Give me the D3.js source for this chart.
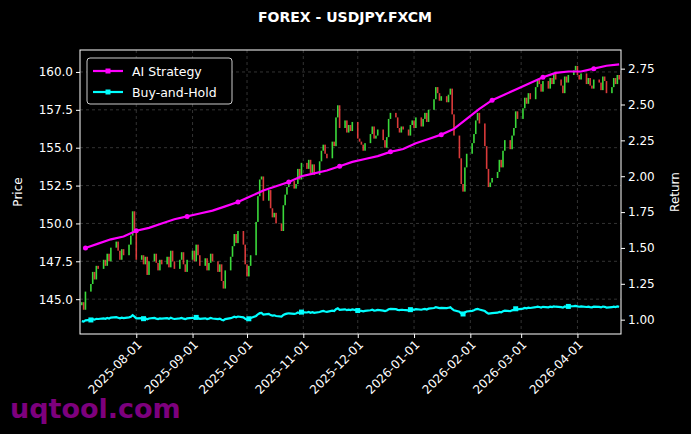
<!DOCTYPE html>
<html>
<head>
<meta charset="utf-8">
<script src="https://cdn.jsdelivr.net/npm/d3@7"></script>
<style>
  body { margin: 0; background: #000; }
  text { font-family: "DejaVu Sans", sans-serif; }
</style>
</head>
<body>
<script>
// weekly rows of daily closes (weekdays), first row starts 2025-07-02
const firstDay = "2025-07-02";
const closeRows = [
    [144.8, 144.3, 145.5],
    [146.0, 146.8, 146.3, 147.2, 147.0],
    [147.6, 147.2, 148.0, 147.5, 148.4],
    [148.8, 148.2, 147.6, 148.3, 147.9],
    [148.6, 149.2, 150.8, 149.4, 147.6],
    [147.9, 147.3, 147.8, 146.6, 147.5],
    [148.0, 147.4, 146.9, 147.6, 147.3],
    [147.8, 147.1, 148.2, 147.5, 147.0],
    [147.6, 148.1, 147.3, 146.8, 147.6],
    [148.2, 147.5, 148.6, 147.9, 147.2],
    [147.7, 146.9, 147.4, 148.0, 147.5],
    [146.8, 147.3, 146.2, 145.7, 146.9],
    [147.8, 148.5, 149.3, 148.7, 149.5],
    [148.6, 147.3, 146.5, 147.2, 147.9],
    [150.1, 151.8, 152.9, 153.1, 151.5],
    [152.2, 151.0, 150.4, 150.7, 150.0],
    [149.5, 151.2, 151.9, 152.4, 152.8],
    [152.3, 152.6, 153.6, 152.9, 154.0],
    [153.6, 154.2, 153.3, 153.9, 153.2],
    [154.1, 154.8, 155.2, 154.6, 154.3],
    [155.4, 155.1, 157.0, 157.8, 156.3],
    [156.8, 156.0, 156.5, 156.1, 156.7],
    [155.6, 155.4, 155.2, 154.8, 155.3],
    [155.9, 156.4, 155.6, 155.8, 156.2],
    [155.5, 155.0, 155.7, 156.9, 157.3],
    [157.0, 156.3, 156.0, 156.4, 156.2],
    [155.8, 156.5, 156.8, 156.3, 157.0],
    [156.4, 156.9, 157.3, 156.7, 157.5],
    [158.2, 159.0, 158.6, 158.1, 158.4],
    [158.0, 158.5, 158.9, 157.2, 155.8],
    [154.3, 152.6, 152.1, 153.7, 154.6],
    [155.3, 155.9, 156.8, 157.3, 156.6],
    [155.1, 153.6, 152.4, 152.7, 153.0],
    [153.4, 154.2, 153.7, 154.8, 155.5],
    [154.9, 155.8, 156.3, 157.4, 156.9],
    [157.6, 158.3, 157.9, 158.6, 158.2],
    [159.0, 159.5, 159.2, 158.7, 159.4],
    [158.9, 159.6, 159.2, 159.9, 159.5],
    [159.1, 158.6, 159.7, 159.3, 159.8],
    [160.1, 160.4, 159.8, 159.5, 159.9],
    [159.2, 159.6, 159.1, 158.9, 159.5],
    [159.3, 158.8, 159.7, 159.4, 158.6],
    [159.0, 159.6, 159.2, 159.8, 159.5]
];
const firstOpen = 144.6;
const holdBase = 146.3;
// AI strategy cumulative return, one value per week (last day of each row)
const aiWeekly = [1.50, 1.53, 1.56, 1.58, 1.62, 1.64, 1.67, 1.70, 1.72, 1.74, 1.76,
    1.79, 1.82, 1.86, 1.90, 1.93, 1.96, 2.00, 2.02, 2.04, 2.07, 2.10, 2.12, 2.14,
    2.17, 2.19, 2.23, 2.26, 2.29, 2.33, 2.40, 2.47, 2.53, 2.57, 2.61, 2.65, 2.69,
    2.72, 2.73, 2.73, 2.75, 2.77, 2.78];
const priceTicks = [145, 147.5, 150, 152.5, 155, 157.5, 160];
const returnTicks = [1.00, 1.25, 1.50, 1.75, 2.00, 2.25, 2.50, 2.75];
const monthTicks = ["2025-08-01", "2025-09-01", "2025-10-01", "2025-11-01", "2025-12-01",
    "2026-01-01", "2026-02-01", "2026-03-01", "2026-04-01"];

const parse = d3.timeParse("%Y-%m-%d");
// build daily candles
var candles = [];
var weekEnds = [];
var day = parse(firstDay);
var prev = firstOpen;
closeRows.forEach((row) => {
    row.forEach((c) => {
        while (day.getDay() === 0 || day.getDay() === 6) day = d3.timeDay.offset(day, 1);
        candles.push({date: day, open: prev, close: c});
        prev = c;
        day = d3.timeDay.offset(day, 1);
    });
    weekEnds.push(candles[candles.length - 1].date);
});
var aiData = aiWeekly.map((v, i) => ({date: weekEnds[i], value: v}));
var holdData = candles.map(d => ({date: d.date, value: d.close / holdBase}));

var margin = {top: 50, right: 70, bottom: 100, left: 80};
var W = 691, H = 434;
var width = W - margin.left - margin.right;
var height = H - margin.top - margin.bottom;

var svg = d3.select("body").append("svg").attr("width", W).attr("height", H);
svg.append("rect").attr("width", W).attr("height", H).attr("fill", "#000");
var g = svg.append("g").attr("transform", `translate(${margin.left},${margin.top})`);

var x = d3.scaleTime()
    .domain([d3.timeDay.offset(candles[0].date, -0.5), d3.timeDay.offset(candles[candles.length - 1].date, 1)])
    .range([0, width]);
var y = d3.scaleLinear().domain([142.7, 161.45]).range([height, 0]);
var y2 = d3.scaleLinear().domain([0.90, 2.88]).range([height, 0]);

// GRID
g.append("g").selectAll("line").data(priceTicks).join("line")
    .attr("x1", 0).attr("x2", width).attr("y1", d => y(d)).attr("y2", d => y(d))
    .attr("stroke", "#555").attr("stroke-dasharray", "3,3").attr("stroke-width", 0.6);
g.append("g").selectAll("line").data(monthTicks).join("line")
    .attr("y1", 0).attr("y2", height).attr("x1", d => x(parse(d))).attr("x2", d => x(parse(d)))
    .attr("stroke", "#555").attr("stroke-dasharray", "3,3").attr("stroke-width", 0.6);

// CANDLES
g.append("g").selectAll("rect").data(candles).join("rect")
    .attr("x", d => x(d.date) - 0.8)
    .attr("width", 1.6)
    .attr("y", d => y(Math.max(d.open, d.close)))
    .attr("height", d => Math.max(1, Math.abs(y(d.open) - y(d.close))))
    .attr("fill", d => d.close >= d.open ? "#44ff44" : "#ff4444")
    .attr("opacity", 0.85);

// RETURN LINES
var line = d3.line().x(d => x(d.date)).y(d => y2(d.value));
g.append("path").datum(holdData).attr("d", line)
    .attr("fill", "none").attr("stroke", "#00ffff").attr("stroke-width", 2.2);
g.append("path").datum(aiData).attr("d", line)
    .attr("fill", "none").attr("stroke", "#ff00ff").attr("stroke-width", 2.2);
g.append("g").selectAll("rect").data(holdData.filter((d, i) => i % 21 === 3)).join("rect")
    .attr("x", d => x(d.date) - 2.5).attr("y", d => y2(d.value) - 2.5)
    .attr("width", 5).attr("height", 5).attr("fill", "#00ffff");
g.append("g").selectAll("circle").data(aiData.filter((d, i) => i % 4 === 0)).join("circle")
    .attr("cx", d => x(d.date)).attr("cy", d => y2(d.value)).attr("r", 2.5).attr("fill", "#ff00ff");

// FRAME
g.append("rect").attr("width", width).attr("height", height)
    .attr("fill", "none").attr("stroke", "#fff").attr("stroke-width", 1);

// AXES
function styleAxis(sel) {
    sel.selectAll("path").remove();
    sel.selectAll("line").attr("stroke", "#fff");
    sel.selectAll("text").attr("fill", "#fff").style("font-size", "12px");
}
g.append("g").call(d3.axisLeft(y).tickValues(priceTicks).tickFormat(d3.format(".1f")).tickSize(4)).call(styleAxis);
g.append("g").attr("transform", `translate(${width},0)`)
    .call(d3.axisRight(y2).tickValues(returnTicks).tickFormat(d3.format(".2f")).tickSize(4)).call(styleAxis);
g.append("g").attr("transform", `translate(0,${height})`)
    .call(d3.axisBottom(x).tickValues(monthTicks.map(parse)).tickFormat(d3.timeFormat("%Y-%m-%d")).tickSize(4))
    .call(styleAxis)
    .selectAll("text")
    .attr("transform", "rotate(-45)")
    .attr("text-anchor", "end")
    .attr("x", -4).attr("y", 8).attr("dy", "0.35em");

// LABELS
svg.append("text").attr("x", 345).attr("y", 22).attr("text-anchor", "middle")
    .attr("fill", "#fff").style("font-size", "14px").style("font-weight", "bold")
    .text("FOREX - USDJPY.FXCM");
svg.append("text").attr("transform", "rotate(-90)").attr("x", -(margin.top + height / 2)).attr("y", 22)
    .attr("text-anchor", "middle").attr("fill", "#fff").style("font-size", "12px").text("Price");
svg.append("text").attr("transform", "rotate(-90)").attr("x", -(margin.top + height / 2)).attr("y", 679)
    .attr("text-anchor", "middle").attr("fill", "#fff").style("font-size", "12px").text("Return");

// LEGEND
var lg = g.append("g").attr("transform", "translate(7,8)");
lg.append("rect").attr("width", 145).attr("height", 46).attr("rx", 3)
    .attr("fill", "#000").attr("stroke", "#ccc").attr("stroke-width", 1);
[["AI Strategy", "#ff00ff"], ["Buy-and-Hold", "#00ffff"]].forEach((item, i) => {
    var yy = 13 + i * 21;
    lg.append("line").attr("x1", 6).attr("x2", 36).attr("y1", yy).attr("y2", yy)
        .attr("stroke", item[1]).attr("stroke-width", 2.2);
    lg.append("rect").attr("x", 18.5).attr("y", yy - 2.5).attr("width", 5).attr("height", 5).attr("fill", item[1]);
    lg.append("text").attr("x", 45).attr("y", yy + 4.5).attr("fill", "#fff")
        .style("font-size", "12.5px").text(item[0]);
});

// WATERMARK
svg.append("text").attr("x", 10).attr("y", 418).attr("fill", "#8b008b")
    .style("font-size", "27px").style("font-weight", "bold").attr("opacity", 0.9).text("uqtool.com");
</script>
</body>
</html>
